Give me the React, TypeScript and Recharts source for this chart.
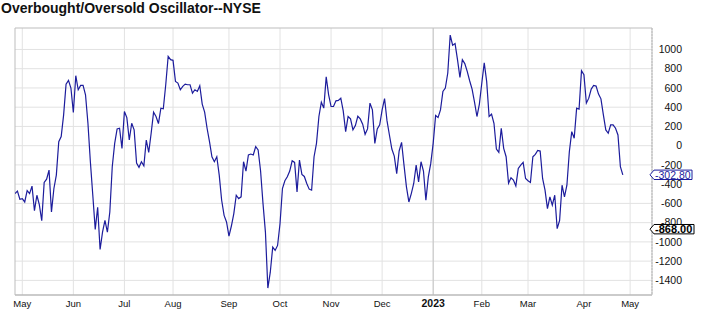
import React from "react";
import {
  LineChart,
  Line,
  XAxis,
  YAxis,
  CartesianGrid,
  ReferenceLine,
  ReferenceArea,
} from "recharts";

// Trading-day index of first session of each month
const monthTickIdx = [3, 24, 45, 65, 88, 109, 130, 151, 172, 192, 211, 234, 253];
const monthLabels = ["May", "Jun", "Jul", "Aug", "Sep", "Oct", "Nov", "Dec", "2023", "Feb", "Mar", "Apr", "May"];

const yTicks = [-1400, -1200, -1000, -800, -600, -400, -200, 0, 200, 400, 600, 800, 1000];

// Oscillator values, one per trading day (Apr 27 2022 -> Apr 26 2023)
const oscValues = [
  -498, -473, -557, -550, -585, -466, -498, -421, -675, -515,
  -612, -780, -383, -348, -254, -689, -445, -306, 42, 94,
  320, 640, 679, 599, 345, 727, 581, 626, 626, 529,
  233, -167, -515, -870, -640, -1079, -898, -776, -898, -689,
  -219, 24, 174, 181, -28, 355, 292, 59, 233, 164,
  -181, -225, -167, -209, 59, -70, 129, 348, 303, 230,
  390, 383, 633, 929, 894, 887, 668, 651, 581, 616,
  640, 633, 633, 546, 581, 564, 623, 432, 348, 181,
  42, -115, -167, -115, -306, -567, -724, -793, -940, -835,
  -706, -515, -550, -532, -167, -264, -97, -87, -97, -10,
  -45, -260, -600, -898, -1480, -1315, -1054, -1089, -1037, -811,
  -445, -365, -324, -264, -157, -174, -480, -150, -299, -320,
  -393, -452, -463, -115, 24, 303, 452, 390, 715, 529,
  407, 407, 466, 470, 494, 362, 146, 303, 278, 164,
  209, 306, 278, 223, 118, 174, 442, 372, 24, 174,
  216, 372, 490, 260, 111, -35, -108, -290, -55, 35,
  -202, -428, -585, -498, -393, -202, -376, -167, -264, -567,
  -324, -184, 24, 313, 292, 372, 564, 599, 755, 1150,
  1044, 1061, 894, 710, 894, 853, 773, 675, 588, 452,
  303, 432, 651, 860, 668, 303, 327, 233, -35, -70,
  181, -28, -115, -390, -334, -358, -418, -237, -202, -174,
  -341, -365, -383, -115, -90, -49, -56, -341, -463, -654,
  -532, -619, -515, -863, -776, -411, -532, -411, -63, 146,
  77, 390, 379, 780, 738, 442, 494, 588, 626, 619,
  536, 487, 320, 164, 129, 216, 216, 181, 111, -219,
  -302.8,
];

const lastValue = -302.8;
const signalValue = -868.0;

const xDomain = [0, 262];
const yDomain = [-1552, 1223];

const data = oscValues.map((v, i) => ({ i, v }));

const LINE_COLOR = "#1c1c9c";
const FONT = "'Liberation Sans', Arial, sans-serif";

const tagInfo: Record<string, { text: string; color: string; bold: boolean }> = {
  [String(lastValue)]: { text: "-302.80", color: LINE_COLOR, bold: false },
  [String(signalValue)]: { text: "-868.00", color: "#000", bold: true },
};

const XTick = (props: any) => {
  const { x, y, payload } = props;
  const idx = monthTickIdx.indexOf(payload.value);
  const label = monthLabels[idx] ?? "";
  const bold = label === "2023";
  return (
    <text
      x={x}
      y={y + 12}
      textAnchor="middle"
      fontSize={bold ? 10.5 : 9.5}
      fontWeight={bold ? "bold" : "normal"}
      fontFamily={FONT}
      fill="#111"
    >
      {label}
    </text>
  );
};

const YTick = (props: any) => {
  const { x, y, payload } = props;
  const tag = tagInfo[String(payload.value)];
  if (tag) {
    const xr = x - 2;
    const h = 4.7;
    const w = tag.bold ? 44 : 42;
    const pts = `${xr},${y} ${xr + 4},${y - h} ${xr + w},${y - h} ${xr + w},${y + h} ${xr + 4},${y + h}`;
    return (
      <g>
        <polygon points={pts} fill="#fff" stroke={tag.color} strokeWidth={1} />
        <text
          x={xr + 5}
          y={y + 3.8}
          fontSize={tag.bold ? 11 : 10.5}
          fontWeight={tag.bold ? "bold" : "normal"}
          fontFamily={FONT}
          fill={tag.color}
        >
          {tag.text}
        </text>
      </g>
    );
  }
  return (
    <text
      x={x + 30}
      y={y + 3.8}
      textAnchor="end"
      fontSize={10.5}
      fontFamily={FONT}
      fill="#111"
    >
      {payload.value}
    </text>
  );
};

export default function App() {
  return (
    <div style={{ position: "fixed", left: 0, top: 0, width: 716, height: 313, background: "#fff" }}>
      <div
        style={{
          position: "absolute",
          left: 1,
          top: 0,
          fontFamily: FONT,
          fontWeight: "bold",
          fontSize: 14,
          color: "#111",
          whiteSpace: "nowrap",
        }}
      >
        Overbought/Oversold Oscillator--NYSE
      </div>
      <LineChart
        width={716}
        height={313}
        data={data}
        margin={{ top: 28, right: 0, bottom: 0, left: 15 }}
      >
        <CartesianGrid stroke="#e2e2e2" strokeWidth={1} horizontalValues={yTicks} verticalValues={monthTickIdx} />
        <XAxis
          dataKey="i"
          type="number"
          domain={xDomain}
          ticks={monthTickIdx}
          interval={0}
          height={18}
          tickSize={0}
          tickMargin={0}
          axisLine={{ stroke: "#b8b8b8" }}
          tick={<XTick />}
          allowDataOverflow
        />
        <YAxis
          orientation="right"
          type="number"
          domain={yDomain}
          ticks={[...yTicks, lastValue, signalValue]}
          interval={0}
          width={64}
          tickSize={0}
          tickMargin={0}
          axisLine={{ stroke: "#bdbdbd", strokeDasharray: "2 1" }}
          tick={<YTick />}
          allowDataOverflow
        />
        <ReferenceLine x={monthTickIdx[8]} stroke="#c4c4c4" />
        <ReferenceArea
          x1={xDomain[0]}
          x2={xDomain[1]}
          y1={yDomain[0]}
          y2={yDomain[1]}
          fill="none"
          stroke="#bdbdbd"
          fillOpacity={0}
        />
        <Line
          type="linear"
          dataKey="v"
          stroke={LINE_COLOR}
          strokeWidth={1.2}
          dot={false}
          isAnimationActive={false}
        />
      </LineChart>
    </div>
  );
}
